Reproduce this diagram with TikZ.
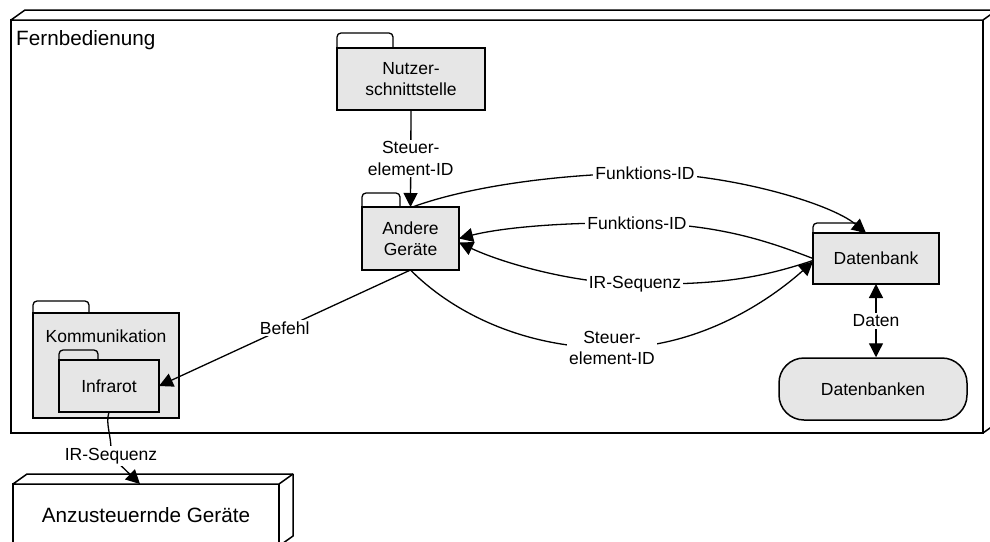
\documentclass[tikz,border=0pt]{standalone}
\usepackage{fontspec}
\setmainfont{Liberation Sans}
\usetikzlibrary{arrows.meta,calc}
\definecolor{pkgfill}{RGB}{230,230,230}
\newcommand\lblfont{\fontsize{17.5}{21.5}\selectfont}
\newcommand\titlefont{\fontsize{20.7}{24}\selectfont}
\begin{document}
\begin{tikzpicture}[x=1pt,y=-1pt,
  outline/.style={draw=black,line width=1.5pt},
  pkg/.style={outline,fill=pkgfill,outer sep=0pt,inner sep=0pt,align=center,font=\lblfont},
  tab/.style={draw=black,line width=1.3pt,rounded corners=4pt},
  conn/.style={draw=black,line width=1.3pt},
  tip/.tip={Triangle[length=14pt,width=14pt]},
  arr/.style={conn,-tip},
  lbl/.style={fill=white,inner sep=2pt,align=center,font=\lblfont},
]
\useasboundingbox (0,0) rectangle (990,541);

% outer node: remote control
\node[outline,fill=white,outer sep=0pt,minimum width=972pt,minimum height=413pt] (fern) at (497,226.5) {};
\draw[outline,fill=white,line join=round] (fern.north west) -- ++(14,-10) -- ($(fern.north east)+(14,-10)$)
  -- ($(fern.south east)+(14,-10)$) -- (fern.south east) -- (fern.north east) -- cycle;
\draw[outline] (fern.north east) -- ++(14,-10);
\node[font=\titlefont,anchor=north west,inner sep=0pt] (fernlabel) at ([xshift=5pt,yshift=-10pt]fern.north west) {Fernbedienung};

% packages
\node[pkg,minimum width=148pt,minimum height=62pt] (nutz) at (411,79) {Nutzer-\\schnittstelle};
\draw[tab] (nutz.north west) -- ++(0,-15) -- ++(56,0) -- ++(0,15);

\node[pkg,minimum width=97pt,minimum height=63pt] (andere) at (410.5,238.5) {Andere\\Geräte};
\draw[tab] (andere.north west) -- ++(0,-14) -- ++(38,0) -- ++(0,14);

\node[pkg,minimum width=126pt,minimum height=51pt] (db) at (876,258.5) {Datenbank};
\draw[tab] (db.north west) -- ++(0,-10) -- ++(47,0) -- ++(0,10);

\node[outline,fill=pkgfill,rounded corners=25pt,minimum width=188pt,minimum height=62pt,font=\lblfont] (dbs) at (873,389) {Datenbanken};

\node[pkg,minimum width=146pt,minimum height=105pt,
  label={[name=kommtext,anchor=north,inner sep=0pt,yshift=-17pt,font=\lblfont]north:Kommunikation}] (komm) at (106,365.5) {};
\draw[tab] (komm.north west) -- ++(0,-12) -- ++(56,0) -- ++(0,12);

\node[pkg,minimum width=100pt,minimum height=52pt] (ir) at (109,386) {Infrarot};
\draw[tab] (ir.north west) -- ++(0,-10) -- ++(39,0) -- ++(0,10);

% controlled devices
\node[outline,fill=white,outer sep=0pt,minimum width=266pt,minimum height=62pt,font=\titlefont] (anz) at (146,515) {Anzusteuernde Geräte};
\draw[outline,fill=white,line join=round] (anz.north west) -- ++(14,-10) -- ($(anz.north east)+(14,-10)$)
  -- ($(anz.south east)+(14,-10)$) -- (anz.south east) -- (anz.north east) -- cycle;
\draw[outline] (anz.north east) -- ++(14,-10);

% connectors
\draw[arr] (nutz.south) -- node[lbl] (l1) {Steuer-\\element-ID} (andere.north);

\draw[arr] ([xshift=2pt]andere.north) .. controls (470,186) and (560,174) .. (645,173)
  node[lbl] (l2) {Funktions-ID}
  .. controls (730,174) and (830,203) .. ([xshift=-10pt]db.north);

\draw[arr] (db.west) .. controls (770,242) and (720,224) .. (637,223)
  node[lbl] (l3) {Funktions-ID}
  .. controls (560,222) and (500,228) .. (andere.east);

\draw[arr] ([yshift=-2pt]db.west) .. controls (760,278) and (720,285) .. (635,284)
  node[lbl] (l4) {IR-Sequenz}
  .. controls (570,283) and (500,262) .. ([yshift=-4pt]andere.east);

\draw[arr] (andere.south) .. controls (450,310) and (520,348) .. (612,348)
  node[lbl] (l5) {Steuer-\\element-ID}
  .. controls (700,348) and (770,300) .. ([yshift=-3pt]db.west);

\draw[arr] (andere.south) -- node[lbl] (l6) {Befehl} (ir.east);

\draw[conn,tip-tip] (db.south) -- node[lbl] (l7) {Daten} (db.south |- dbs.north);

\draw[arr] (ir.south) .. controls (105,425) and (112,435) .. (111,456)
  node[lbl] (l8) {IR-Sequenz} -- ([xshift=-6pt]anz.north);

\end{tikzpicture}
\end{document}
